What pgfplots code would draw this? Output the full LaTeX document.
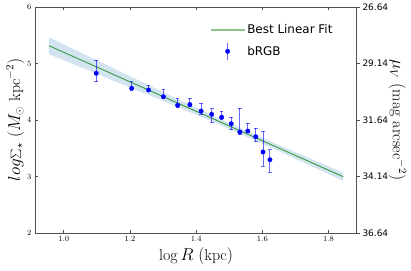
\documentclass[border=0pt]{standalone}
\usepackage{pgfplots}
\pgfplotsset{compat=1.18}
\usepackage{pgfplotstable}
\usepackage{fontspec}
\newfontfamily\dejavu{DejaVu Sans}
\definecolor{fitgreen}{RGB}{30,140,30}
\definecolor{bandblue}{RGB}{31,119,180}
\definecolor{spine}{RGB}{80,80,80}

\pgfplotstableread{
x y ep em
1.098 4.827 0.235 0.15
1.205 4.561 0.12 0.03
1.256 4.531 0.09 0.03
1.301 4.412 0.13 0.03
1.344 4.260 0.12 0.04
1.381 4.274 0.11 0.04
1.415 4.159 0.14 0.06
1.447 4.101 0.10 0.14
1.477 4.048 0.11 0.04
1.506 3.935 0.11 0.11
1.532 3.788 0.42 0.05
1.556 3.805 0.14 0.03
1.580 3.704 0.15 0.09
1.602 3.434 0.37 0.25
1.623 3.297 0.18 0.22
}\datatable

\pgfplotstableread{
x y
0.955 5.315
1.844 2.997
}\fittable

\begin{document}
\begin{tikzpicture}
\useasboundingbox (-35bp,-38bp) rectangle (376bp,233bp);
\begin{axis}[
  at={(0,0)}, anchor=south west,
  scale only axis, width=322bp, height=226bp,
  xmin=0.913, xmax=1.886, ymin=2, ymax=6,
  xtick={1.0,1.2,1.4,1.6,1.8},
  xticklabels={1.0,1.2,1.4,1.6,1.8},
  ytick={2,3,4,5,6},
  ytick pos=left,
  xtick pos=both,
  tick align=inside,
  major tick length=3bp,
  tick style={spine, line width=0.6pt},
  axis line style={spine, line width=1pt},
  ticklabel style={font=\fontsize{8}{9}\selectfont},
  xlabel={$\log R\ (\mathrm{kpc})$},
  ylabel={$log{\textstyle\sum}_\star\ (M_\odot\ \mathrm{kpc}^{-2})$},
  label style={font=\fontsize{16}{18}\selectfont},
  xlabel style={yshift=1bp},
  ylabel style={yshift=-4bp},
  legend style={draw=none, fill=none, at={(0.94,0.94)}, anchor=north east,
    font=\dejavu\fontsize{12}{14}\selectfont, row sep=5bp},
  legend cell align=left,
]
\addplot[draw=none, fill=bandblue, fill opacity=0.2, forget plot] coordinates {
(0.955,5.465) (1.05,5.197) (1.15,4.916) (1.25,4.634) (1.35,4.353) (1.45,4.080)
(1.55,3.815) (1.65,3.557) (1.75,3.305) (1.844,3.071)
(1.844,2.923) (1.75,3.179) (1.65,3.447) (1.55,3.711) (1.45,3.968) (1.35,4.217)
(1.25,4.458) (1.15,4.696) (1.05,4.937) (0.955,5.165)
} -- cycle;
\addplot[fitgreen, line width=0.9pt, draw opacity=0.85,
  legend image code/.code={\draw[fitgreen!60, line width=1.2pt] (0cm,0cm) -- (1.2cm,0cm);}]
  table[x=x, y=y] {\fittable};
\addlegendentry{Best Linear Fit}
\addplot[only marks, mark=*, mark size=2.2bp, color=blue,
  legend image code/.code={
    \draw[blue, opacity=0.6, line width=1pt] (0.6cm,-0.3cm) -- (0.6cm,0.3cm);
    \fill[blue] (0.6cm,0cm) circle (2.2bp);},
  error bars/.cd, y dir=both, y explicit,
  error bar style={blue, opacity=0.6, line width=1pt},
  error mark options={rotate=90, blue, mark size=1.8bp, line width=0.8pt},
] table[x=x, y=y, y error plus=ep, y error minus=em] {\datatable};
\addlegendentry{bRGB}
\end{axis}
\begin{axis}[
  at={(0,0)}, anchor=south west,
  scale only axis, width=322bp, height=226bp,
  xmin=0.913, xmax=1.886,
  ymin=26.64, ymax=36.64, y dir=reverse,
  axis x line=none, axis y line*=right,
  ytick={26.64,29.14,31.64,34.14,36.64},
  yticklabels={26.64,29.14,31.64,34.14,36.64},
  tick align=outside,
  major tick length=3bp,
  tick style={spine, line width=0.6pt},
  axis line style={spine, line width=1pt},
  yticklabel style={font=\dejavu\fontsize{9}{10}\selectfont, xshift=-1bp},
  ylabel={$\mu_V\ (\mathrm{mag\ arcsec}^{-2})$},
  ylabel style={font=\fontsize{16}{18}\selectfont, rotate=180,
    at={(axis description cs:1.125,0.5)}, anchor=center},
]
\addplot[draw=none, forget plot] coordinates {(1.0,30)};
\end{axis}
\end{tikzpicture}
\end{document}
